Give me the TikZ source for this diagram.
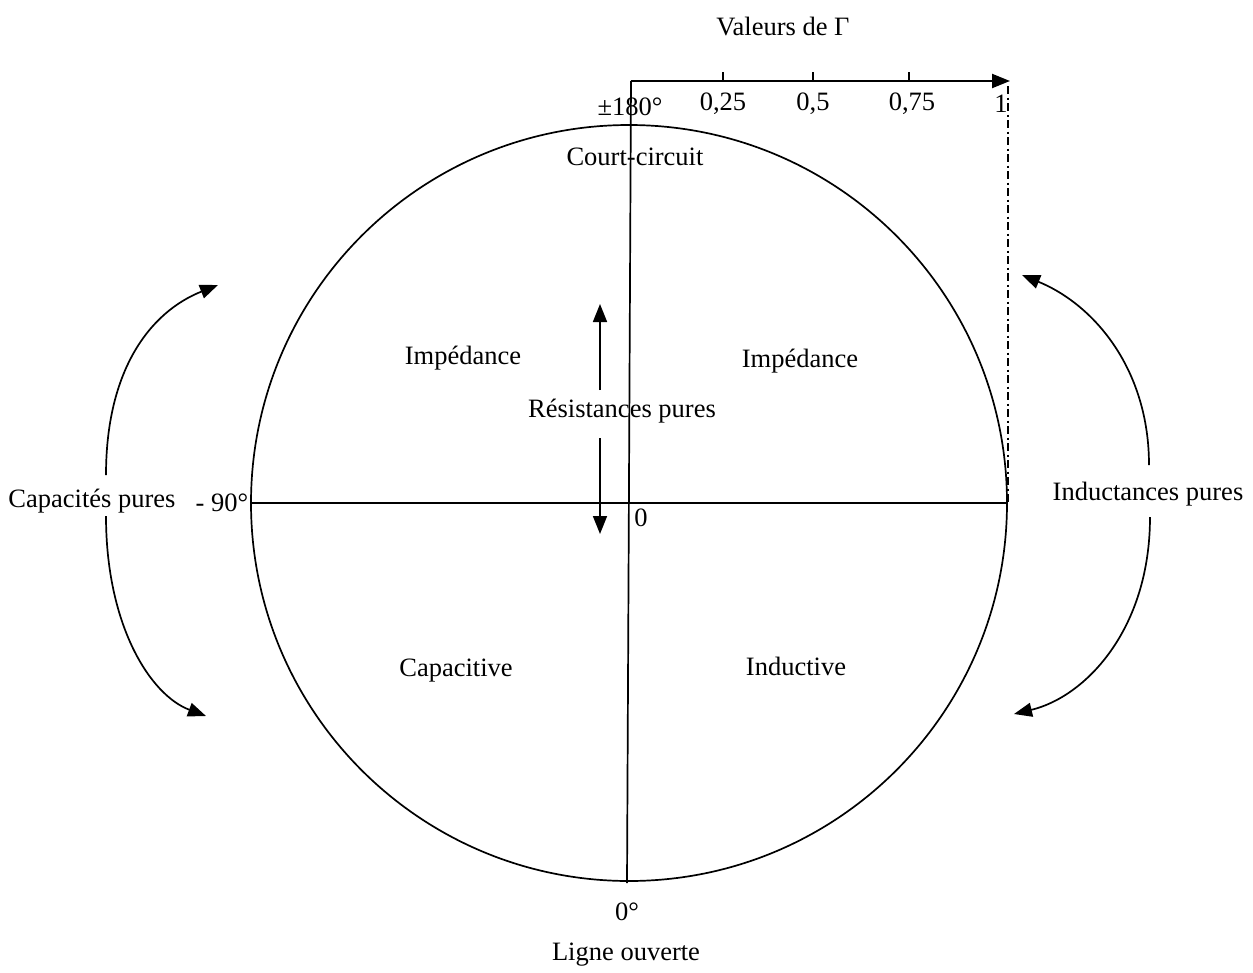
\documentclass[tikz,border=0pt]{standalone}
\usepackage{fontspec}
\setmainfont{Liberation Serif}
\usetikzlibrary{arrows.meta}
\begin{document}
\begin{tikzpicture}[x=1pt,y=-1pt,
  lbl/.style={font=\fontsize{26.5}{30}\selectfont, inner sep=0pt},
  ln/.style={line width=1.7pt},
  tip/.style={-{Triangle[length=18pt,width=14pt]}},
  curv/.style={ln, tip}
]
\useasboundingbox (0,0) rectangle (1253,972);
% circle
\coordinate (O) at (629,503);
\draw[ln] (O) circle[radius=378pt];
% axes
\coordinate (vt) at (631,81);
\coordinate (vb) at (627,883);
\coordinate (hl) at (251,503);
\coordinate (hr) at (1007,503);
\draw[ln] (vt) -- (vb);
\draw[ln] (hl) -- (hr);
% top scale
\coordinate (se) at (1010,81);
\draw[line width=2.2pt, -{Triangle[length=18pt,width=14pt]}] (vt) -- (se);
\foreach \x in {723,813,909} \draw[line width=1.8pt] (\x,81) -- (\x,72);
\coordinate (db) at (1008,503);
\draw[line width=1.6pt, dash pattern=on 8pt off 3.5pt on 2pt off 3.5pt] (1008,86) -- (db);
% labels
\node[lbl] (gam) at (783,27) {Valeurs de Γ};
\node[lbl] (l180) at (630,107) {±180°};
\node[lbl] (l25) at (723,104) {0,25};
\node[lbl] (l5) at (813,104) {0,5};
\node[lbl] (l75) at (912,104) {0,75};
\node[lbl] (l1) at (1001,104) {1};
\node[lbl] (cc) at (635,157) {Court-circuit};
\node[lbl] (imp1) at (463,358) {Impédance};
\node[lbl] (imp2) at (800,361) {Impédance};
\node[lbl] (res) at (622,411) {Résistances pures};
\node[lbl] (zero) at (641,518) {0};
\node[lbl] (m90) at (222,503) {- 90°};
\node[lbl] (cap) at (92,501) {Capacités pures};
\node[lbl] (ind) at (1148,494) {Inductances pures};
\node[lbl] (capv) at (456,671) {Capacitive};
\node[lbl] (indv) at (796,666) {Inductive};
\node[lbl] (z0) at (627,912) {0°};
\node[lbl] (lo) at (626,955) {Ligne ouverte};
% resistance arrows
\coordinate (ru0) at (600,390);
\coordinate (ru1) at (600,304);
\coordinate (rd0) at (600,438);
\coordinate (rd1) at (600,534);
\draw[ln, tip] (ru0) -- (ru1);
\draw[ln, tip] (rd0) -- (rd1);
% curved arrows left
\coordinate (cl1) at (106,475);
\coordinate (cl1e) at (218,285);
\coordinate (cl2) at (106,516);
\coordinate (cl2e) at (206,716);
\draw[curv] (cl1) .. controls (106,370) and (150,312) .. (cl1e);
\draw[curv] (cl2) .. controls (106,625) and (150,695) .. (cl2e);
% curved arrows right
\coordinate (cr1) at (1149,465);
\coordinate (cr1e) at (1022,275);
\coordinate (cr2) at (1150,517);
\coordinate (cr2e) at (1014,714);
\draw[curv] (cr1) .. controls (1149,370) and (1095,305) .. (cr1e);
\draw[curv] (cr2) .. controls (1150,630) and (1085,697) .. (cr2e);
\end{tikzpicture}
\end{document}
